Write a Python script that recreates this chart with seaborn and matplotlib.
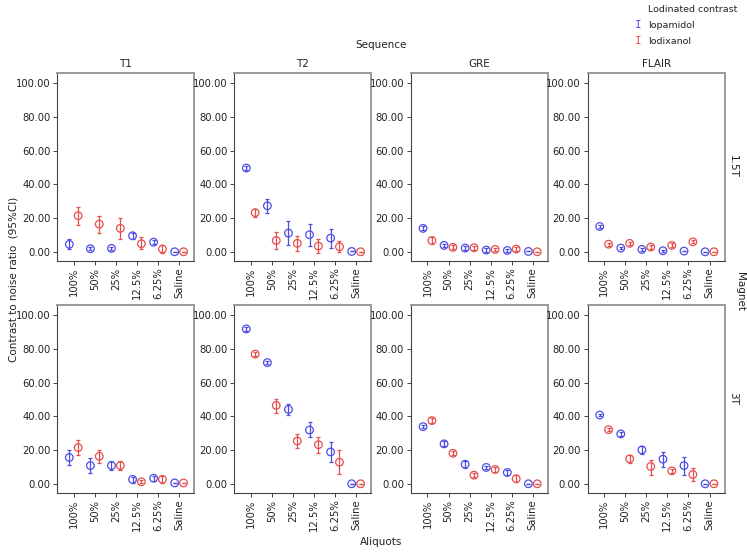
import numpy as np
import pandas as pd
import matplotlib
matplotlib.use("Agg")
import matplotlib.pyplot as plt
import seaborn as sns

# ---------------- data ----------------
aliquots = ["100%", "50%", "25%", "12.5%", "6.25%", "Saline"]
sequences = ["T1", "T2", "GRE", "FLAIR"]
magnets = ["1.5T", "3T"]
agents = ["Iopamidol", "Iodixanol"]

# means, lower CI, upper CI  (per magnet/sequence/agent, ordered like aliquots)
t1_15_iopa = [4.4, 1.8, 2.0, 9.5, 5.7, 0.0]
t1_15_iopa_lo = [1.5, 0.8, 1.0, 7.7, 4.5, 0.0]
t1_15_iopa_hi = [7.5, 2.8, 3.0, 11.3, 6.9, 0.0]
t1_15_iodi = [21.4, 16.4, 13.9, 4.8, 1.6, 0.0]
t1_15_iodi_lo = [15.8, 11.3, 7.3, 1.4, -0.6, 0.0]
t1_15_iodi_hi = [26.3, 21.2, 19.8, 8.5, 4.2, 0.0]

t2_15_iopa = [49.7, 27.3, 11.1, 10.1, 8.1, 0.2]
t2_15_iopa_lo = [48.5, 22.8, 4.2, 3.4, 2.0, 0.2]
t2_15_iopa_hi = [50.9, 31.5, 18.0, 16.2, 13.3, 0.2]
t2_15_iodi = [23.2, 6.7, 5.0, 3.4, 3.0, 0.0]
t2_15_iodi_lo = [20.8, 1.8, 0.2, -1.0, -0.2, 0.0]
t2_15_iodi_hi = [25.6, 11.7, 9.3, 7.7, 6.1, 0.0]

gre_15_iopa = [13.9, 3.8, 2.2, 1.0, 0.8, 0.2]
gre_15_iopa_lo = [12.7, 2.8, 1.2, 0.0, -0.2, 0.2]
gre_15_iopa_hi = [15.1, 4.8, 3.2, 2.0, 1.8, 0.2]
gre_15_iodi = [6.7, 2.6, 2.4, 1.4, 1.6, 0.0]
gre_15_iodi_lo = [4.5, 1.4, 1.2, 0.4, 0.4, 0.0]
gre_15_iodi_hi = [8.9, 3.8, 3.6, 2.4, 2.8, 0.0]

flair_15_iopa = [15.0, 2.2, 1.4, 0.6, 0.4, 0.0]
flair_15_iopa_lo = [14.4, 1.4, 0.6, 0.0, 0.4, 0.0]
flair_15_iopa_hi = [15.6, 3.0, 2.2, 1.2, 0.4, 0.0]
flair_15_iodi = [4.5, 5.0, 2.8, 3.8, 5.9, 0.0]
flair_15_iodi_lo = [3.5, 4.0, 1.6, 2.6, 5.1, 0.0]
flair_15_iodi_hi = [5.5, 6.0, 4.0, 5.0, 6.7, 0.0]

t1_3_iopa = [15.6, 10.8, 10.8, 2.6, 3.3, 0.5]
t1_3_iopa_lo = [11.0, 6.3, 7.9, 0.6, 1.6, 0.5]
t1_3_iopa_hi = [19.9, 15.2, 13.6, 4.3, 4.9, 0.5]
t1_3_iodi = [21.5, 16.3, 10.8, 1.2, 2.6, 0.5]
t1_3_iodi_lo = [16.9, 12.2, 8.3, 0.4, 0.2, 0.5]
t1_3_iodi_hi = [25.8, 20.3, 13.4, 2.0, 4.7, 0.5]

t2_3_iopa = [91.9, 71.9, 44.1, 31.9, 18.9, 0.0]
t2_3_iopa_lo = [90.9, 70.9, 40.7, 27.6, 13.0, 0.0]
t2_3_iopa_hi = [92.9, 72.9, 47.4, 36.4, 25.0, 0.0]
t2_3_iodi = [77.0, 46.5, 25.4, 23.2, 12.8, 0.0]
t2_3_iodi_lo = [75.8, 42.3, 21.1, 18.1, 5.9, 0.0]
t2_3_iodi_hi = [78.2, 50.2, 29.7, 28.0, 19.9, 0.0]

gre_3_iopa = [33.9, 23.7, 11.6, 9.7, 6.7, 0.0]
gre_3_iopa_lo = [33.1, 22.3, 9.6, 8.7, 5.5, 0.0]
gre_3_iopa_hi = [34.7, 25.1, 13.6, 10.7, 7.9, 0.0]
gre_3_iodi = [37.5, 18.1, 5.1, 8.5, 3.0, 0.0]
gre_3_iodi_lo = [36.0, 16.9, 3.9, 6.9, 1.0, 0.0]
gre_3_iodi_hi = [39.0, 19.3, 6.3, 10.1, 5.0, 0.0]

flair_3_iopa = [40.8, 29.6, 20.1, 14.6, 10.8, 0.0]
flair_3_iopa_lo = [40.0, 28.2, 17.5, 10.1, 5.3, 0.0]
flair_3_iopa_hi = [41.6, 31.0, 22.7, 19.1, 16.0, 0.0]
flair_3_iodi = [32.1, 14.8, 10.3, 7.7, 5.5, 0.0]
flair_3_iodi_lo = [31.1, 12.6, 5.3, 6.5, 1.6, 0.0]
flair_3_iodi_hi = [33.1, 17.0, 14.4, 8.9, 9.5, 0.0]

yticks = [0, 20, 40, 60, 80, 100]

series = {
    ("1.5T", "T1"): [(t1_15_iopa, t1_15_iopa_lo, t1_15_iopa_hi), (t1_15_iodi, t1_15_iodi_lo, t1_15_iodi_hi)],
    ("1.5T", "T2"): [(t2_15_iopa, t2_15_iopa_lo, t2_15_iopa_hi), (t2_15_iodi, t2_15_iodi_lo, t2_15_iodi_hi)],
    ("1.5T", "GRE"): [(gre_15_iopa, gre_15_iopa_lo, gre_15_iopa_hi), (gre_15_iodi, gre_15_iodi_lo, gre_15_iodi_hi)],
    ("1.5T", "FLAIR"): [(flair_15_iopa, flair_15_iopa_lo, flair_15_iopa_hi), (flair_15_iodi, flair_15_iodi_lo, flair_15_iodi_hi)],
    ("3T", "T1"): [(t1_3_iopa, t1_3_iopa_lo, t1_3_iopa_hi), (t1_3_iodi, t1_3_iodi_lo, t1_3_iodi_hi)],
    ("3T", "T2"): [(t2_3_iopa, t2_3_iopa_lo, t2_3_iopa_hi), (t2_3_iodi, t2_3_iodi_lo, t2_3_iodi_hi)],
    ("3T", "GRE"): [(gre_3_iopa, gre_3_iopa_lo, gre_3_iopa_hi), (gre_3_iodi, gre_3_iodi_lo, gre_3_iodi_hi)],
    ("3T", "FLAIR"): [(flair_3_iopa, flair_3_iopa_lo, flair_3_iopa_hi), (flair_3_iodi, flair_3_iodi_lo, flair_3_iodi_hi)],
}

rows = []
for (mag, seq), pair in series.items():
    for agent, (m, lo, hi) in zip(agents, pair):
        for i, a in enumerate(aliquots):
            rows.append(dict(magnet=mag, sequence=seq, agent=agent, aliquot=a,
                             idx=i, mean=m[i], lo=lo[i], hi=hi[i]))
df = pd.DataFrame(rows)

# ---------------- style ----------------
sns.set_theme(style="white")
plt.rcParams["font.family"] = ["DejaVu Sans"]
colors = {"Iopamidol": "#4d4de6", "Iodixanol": "#e64d4d"}
dodge = {"Iopamidol": -0.21, "Iodixanol": 0.21}
df["x"] = df["idx"] + df["agent"].map(dodge)

W, H = 747, 552
fig = plt.figure(figsize=(W / 100, H / 100), dpi=100)

lefts = [57.3, 234.3, 411.0, 587.7]
pw = 137.0
tops = [72.7, 304.7]
ph = 188.0
txt = "#222222"

for r, mag in enumerate(magnets):
    for c, seq in enumerate(sequences):
        ax = fig.add_axes([lefts[c] / W, 1 - (tops[r] + ph) / H, pw / W, ph / H])
        sub = df[(df.magnet == mag) & (df.sequence == seq)]
        for agent in agents:
            s = sub[sub.agent == agent]
            ax.errorbar(s["x"], s["mean"],
                        yerr=[s["mean"] - s["lo"], s["hi"] - s["mean"]],
                        fmt="none", ecolor=colors[agent], elinewidth=0.9,
                        capsize=1.3, capthick=0.9, zorder=2)
        sns.scatterplot(data=sub, x="x", y="mean", hue="agent", palette=colors,
                        hue_order=agents, marker="o", s=30,
                        linewidth=0.9, ax=ax, legend=False, zorder=3)
        # make hollow circles
        for coll in ax.collections:
            fc = coll.get_facecolors()
            if len(fc) and coll.get_offsets().shape[0] == len(sub):
                coll.set_edgecolors(fc)
                coll.set_facecolors("none")
        ax.set_xlim(-0.78, 5.72)
        ax.set_ylim(-5.3, 106.3)
        ax.set_xticks(range(len(aliquots)))
        ax.set_xticklabels(aliquots, rotation=90, fontsize=7.2, color=txt)
        ax.set_yticks(yticks)
        ax.set_yticklabels([f"{v:.2f}" for v in yticks], fontsize=7.2, color=txt)
        ax.tick_params(axis="both", which="both", direction="out", length=3,
                       width=0.7, color="#444444", pad=2,
                       bottom=True, left=True)
        ax.set_xlabel("")
        ax.set_ylabel("")
        for side in ["left", "bottom"]:
            ax.spines[side].set_color("#444444")
            ax.spines[side].set_linewidth(0.8)
        for side in ["top", "right"]:
            ax.spines[side].set_color("#999999")
            ax.spines[side].set_linewidth(1.4)
        if r == 0:
            ax.set_title(seq, fontsize=7.5, color=txt, pad=4)
        if c == 3:
            ax.text(1.025, 0.5, mag, transform=ax.transAxes, rotation=-90,
                    va="center", ha="left", fontsize=7.5, color=txt)

fig.text(381 / W, 1 - 45 / H, "Sequence", ha="center", va="center", fontsize=7.5, color=txt)
fig.text(381 / W, 1 - 542 / H, "Aliquots", ha="center", va="center", fontsize=7.5, color=txt)
fig.text(14 / W, 1 - 279 / H, "Contrast to noise ratio  (95%CI)", rotation=90,
         ha="center", va="center", fontsize=7.5, color=txt)
fig.text(740 / W, 1 - 292 / H, "Magnet", rotation=-90, ha="center", va="center",
         fontsize=7.5, color=txt)

# legend
fig.text(648 / W, 1 - 10 / H, "Lodinated contrast", ha="left", va="center", fontsize=6.8, color=txt)
for k, agent in enumerate(agents):
    yy = 1 - (25 + 16 * k) / H
    fig.text(638 / W, yy, "I", family="DejaVu Sans Mono", ha="center", va="center",
             fontsize=8, color=colors[agent])
    fig.text(648 / W, yy, agent, ha="left", va="center", fontsize=6.8, color=txt)

fig.savefig("out.png", dpi=100)
